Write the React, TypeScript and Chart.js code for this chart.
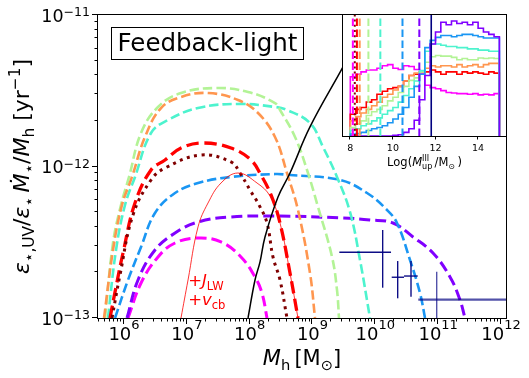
import React, { useEffect, useRef } from 'react';
import { Chart, registerables } from 'chart.js';

Chart.register(...registerables);

const FONT = '"DejaVu Sans", sans-serif';

// ---------- main panel: axis limits (log10) and ticks ----------
const xLogMin = 5.586;
const xLogMax = 12.08;
const yLogMin = -13;
const yLogMax = -11;
const xTickExps = [6, 7, 8, 9, 10, 11, 12];
const yTickExps = [-13, -12, -11];

// ---------- main panel curves: log10(M_h) and log10(rate) ----------
const greenLogM = [5.698, 5.825, 5.952, 6.08, 6.271, 6.541, 6.907, 7.464, 7.974, 8.403, 8.483, 8.722, 8.913, 9.088, 9.311, 9.39, 9.422];
const greenLogY = [-13, -12.505, -12.254, -12.069, -11.779, -11.607, -11.515, -11.482, -11.508, -11.581, -11.627, -11.805, -12.023, -12.267, -12.597, -12.815, -13];

const orangeLogM = [5.682, 5.825, 5.968, 6.127, 6.334, 6.589, 6.907, 7.337, 7.814, 8.133, 8.403, 8.594, 8.769, 8.96, 9.04];
const orangeLogY = [-13, -12.551, -12.254, -12.069, -11.805, -11.614, -11.541, -11.515, -11.561, -11.647, -11.805, -12.043, -12.287, -12.703, -13];

const turqLogM = [5.745, 5.873, 6.016, 6.175, 6.43, 6.7, 7.178, 7.814, 8.403, 8.594, 8.96, 9.167, 9.39, 9.597, 9.756, 9.915];
const turqLogY = [-13, -12.551, -12.254, -12.069, -11.779, -11.693, -11.614, -11.587, -11.607, -11.627, -11.713, -11.871, -12.069, -12.3, -12.617, -13];

const redLogM = [5.777, 5.873, 5.984, 6.175, 6.43, 6.653, 6.907, 7.257, 7.703, 8.021, 8.18, 8.34, 8.483, 8.642, 8.769];
const redLogY = [-13, -12.795, -12.571, -12.241, -12.023, -11.957, -11.878, -11.845, -11.878, -11.957, -12.056, -12.188, -12.373, -12.703, -13];

const maroonLogM = [5.809, 5.936, 6.143, 6.43, 6.653, 7.226, 7.703, 7.846, 8.005, 8.149, 8.276, 8.371, 8.483, 8.594];
const maroonLogY = [-13, -12.716, -12.32, -12.089, -12.01, -11.924, -11.97, -12.043, -12.155, -12.254, -12.373, -12.597, -12.749, -13];

const blueLogM = [5.857, 6.064, 6.271, 6.493, 6.812, 7.178, 7.703, 8.403, 8.642, 9.438, 9.868, 10.186, 10.345, 10.552, 10.711, 10.791];
const blueLogY = [-13, -12.749, -12.531, -12.307, -12.175, -12.109, -12.069, -12.05, -12.056, -12.089, -12.175, -12.287, -12.373, -12.617, -12.835, -13];

const purpleLogM = [6.048, 6.223, 6.493, 6.812, 7.178, 7.703, 8.403, 9.486, 9.915, 10.281, 10.6, 10.918, 11.189, 11.348, 11.427];
const purpleLogY = [-13, -12.749, -12.551, -12.439, -12.366, -12.333, -12.327, -12.34, -12.353, -12.373, -12.465, -12.571, -12.729, -12.881, -13];

const magentaLogM = [6.064, 6.271, 6.541, 6.812, 7.178, 7.544, 7.862, 8.085, 8.196, 8.276];
const magentaLogY = [-13, -12.769, -12.597, -12.505, -12.472, -12.498, -12.597, -12.729, -12.835, -13];

const thinRedLogM = [6.907, 7.019, 7.178, 7.337, 7.544, 7.814, 8.117, 8.324, 8.483, 8.642, 8.769];
const thinRedLogY = [-13, -12.749, -12.399, -12.241, -12.109, -12.043, -12.109, -12.195, -12.373, -12.703, -13];

const blackLogM = [7.974, 8.085, 8.165, 8.244, 8.451, 8.642, 8.96, 9.486, 9.8];
const blackLogY = [-13, -12.749, -12.63, -12.465, -12.201, -12.043, -11.739, -11.343, -11.1];

// observational points with error bars
const obsLogM = [10.117, 10.356, 10.568, 10.977];
const obsLogMlo = [9.427, 10.261, 10.457, 10.684];
const obsLogMhi = [10.25, 10.457, 10.675, 12.5];
const obsLogY = [-12.566, -12.731, -12.723, -12.879];
const obsLogYlo = [-12.8, -12.87, -12.859, -13.3];
const obsLogYhi = [-12.419, -12.624, -12.624, -12.694];

// ---------- inset: histograms of log10(M_up^III) ----------
const insetXMin = 7.657;
const insetXMax = 15.31;
const insetTicks = [8, 10, 12, 14];
const binLefts = [8, 8.25, 8.5, 8.75, 9, 9.25, 9.5, 9.75, 10, 10.25, 10.5, 10.75, 11, 11.25, 11.5, 11.75, 12, 12.25, 12.5, 12.75, 13, 13.25, 13.5, 13.75, 14, 14.25, 14.5, 14.75];
const binEnd = 15;
const histMagenta = [0.49, 0.51, 0.53, 0.545, 0.545, 0.56, 0.58, 0.59, 0.56, 0.55, 0.58, 0.575, 0.55, 0.52, 0.42, 0.4, 0.39, 0.375, 0.36, 0.355, 0.35, 0.35, 0.345, 0.35, 0.34, 0.345, 0.34, 0.35];
const histRed = [0.18, 0.22, 0.235, 0.28, 0.3, 0.345, 0.37, 0.39, 0.4, 0.41, 0.455, 0.5, 0.51, 0.53, 0.53, 0.545, 0.53, 0.51, 0.53, 0.53, 0.51, 0.53, 0.52, 0.53, 0.52, 0.51, 0.53, 0.52];
const histOrange = [0.125, 0.16, 0.19, 0.22, 0.25, 0.28, 0.32, 0.345, 0.38, 0.41, 0.455, 0.5, 0.52, 0.53, 0.56, 0.58, 0.57, 0.58, 0.58, 0.57, 0.59, 0.57, 0.58, 0.59, 0.57, 0.59, 0.6, 0.6];
const histGreen = [0.07, 0.1, 0.125, 0.17, 0.2, 0.22, 0.25, 0.29, 0.32, 0.36, 0.41, 0.46, 0.48, 0.53, 0.61, 0.655, 0.665, 0.66, 0.66, 0.65, 0.63, 0.64, 0.63, 0.63, 0.645, 0.64, 0.645, 0.64];
const histTurq = [0.045, 0.06, 0.085, 0.1, 0.125, 0.15, 0.18, 0.21, 0.235, 0.28, 0.335, 0.39, 0.455, 0.54, 0.7, 0.76, 0.76, 0.75, 0.74, 0.74, 0.73, 0.73, 0.72, 0.72, 0.71, 0.71, 0.7, 0.7];
const histBlue = [0.017, 0.02, 0.03, 0.045, 0.06, 0.07, 0.085, 0.11, 0.14, 0.18, 0.235, 0.32, 0.41, 0.51, 0.73, 0.79, 0.815, 0.83, 0.83, 0.82, 0.83, 0.84, 0.84, 0.83, 0.82, 0.81, 0.81, 0.81];
const histPurple = [0, 0, 0, 0, 0, 0, 0, 0, 0.005, 0.01, 0.03, 0.06, 0.13, 0.3, 0.5, 0.76, 0.86, 0.94, 0.92, 0.95, 0.93, 0.94, 0.92, 0.94, 0.89, 0.86, 0.84, 0.82];
const vLineX = [8.12, 8.21, 8.31, 8.44, 8.85, 9.41, 10.45, 11.24];
const navyLineX = 11.8;

const C_PURPLE = '#8000ff';
const C_BLUE = '#1a96f3';
const C_TURQ = '#4df3ce';
const C_GREEN = '#b3f396';
const C_ORANGE = '#ff964f';
const C_RED = '#ff0000';
const C_MAGENTA = '#ff00ff';
const C_MAROON = '#800000';
const C_NAVY = '#000080';

// ---------- helpers ----------
type Piece = { t?: string; it?: boolean; pos?: 'sub' | 'sup'; sub?: string; sup?: string; fs?: number; dy?: number };

function pieceFont(size: number, it?: boolean) {
  return `${it ? 'italic ' : ''}${size}px ${FONT}`;
}

function pieceWidth(ctx: CanvasRenderingContext2D, p: Piece, size: number) {
  if (p.sub !== undefined || p.sup !== undefined) {
    ctx.font = pieceFont(size * 0.7);
    const a = p.sub ? ctx.measureText(p.sub).width : 0;
    const b = p.sup ? ctx.measureText(p.sup).width : 0;
    return Math.max(a, b);
  }
  const fs = p.fs ?? (p.pos ? size * 0.7 : size);
  ctx.font = pieceFont(fs, p.it);
  return ctx.measureText(p.t ?? '').width;
}

function drawRich(ctx: CanvasRenderingContext2D, pieces: Piece[], x: number, y: number, size: number, color: string, align: 'left' | 'center' | 'right') {
  let total = 0;
  for (const p of pieces) total += pieceWidth(ctx, p, size);
  let cx = align === 'center' ? x - total / 2 : align === 'right' ? x - total : x;
  ctx.fillStyle = color;
  ctx.textAlign = 'left';
  ctx.textBaseline = 'alphabetic';
  for (const p of pieces) {
    const w = pieceWidth(ctx, p, size);
    if (p.sub !== undefined || p.sup !== undefined) {
      ctx.font = pieceFont(size * 0.7);
      if (p.sup) ctx.fillText(p.sup, cx, y - size * 0.45);
      if (p.sub) ctx.fillText(p.sub, cx, y + size * 0.25);
    } else {
      const dy = p.dy ?? (p.pos === 'sub' ? size * 0.22 : p.pos === 'sup' ? -size * 0.42 : 0);
      ctx.fillText(p.t ?? '', cx, y + dy);
    }
    cx += w;
  }
}

const pts = (lx: number[], ly: number[]) => lx.map((v, i) => ({ x: Math.pow(10, v), y: Math.pow(10, ly[i]) }));

function curve(label: string, lx: number[], ly: number[], color: string, width: number, dash: number[], order: number) {
  return {
    label,
    data: pts(lx, ly),
    borderColor: color,
    backgroundColor: color,
    borderWidth: width,
    borderDash: dash,
    pointRadius: 0,
    fill: false,
    cubicInterpolationMode: 'default',
    tension: 0.4,
    order,
  };
}

function segment(label: string, a: { x: number; y: number }, b: { x: number; y: number }, color: string, width: number) {
  return {
    label,
    data: [a, b],
    borderColor: color,
    borderWidth: width,
    pointRadius: 0,
    fill: false,
    tension: 0,
    order: 0,
  };
}

function histPoints(vals: number[]) {
  const out = [{ x: binLefts[0], y: 0 }];
  vals.forEach((v, i) => out.push({ x: binLefts[i], y: v }));
  out.push({ x: binEnd, y: vals[vals.length - 1] });
  out.push({ x: binEnd, y: 0 });
  return out;
}

const mainDecor = {
  id: 'mainDecor',
  afterDraw(chart: any) {
    const { ctx, chartArea: a } = chart;
    const xs = chart.scales.x;
    const ys = chart.scales.y;
    ctx.save();
    // feedback box
    const bx = a.left + 13, by = a.top + 12, bw = 192, bh = 32;
    ctx.fillStyle = '#fff';
    ctx.fillRect(bx, by, bw, bh);
    ctx.strokeStyle = '#000';
    ctx.lineWidth = 1;
    ctx.strokeRect(bx + 0.5, by + 0.5, bw, bh);
    ctx.font = pieceFont(24.5);
    ctx.fillStyle = '#000';
    ctx.textAlign = 'center';
    ctx.textBaseline = 'alphabetic';
    ctx.fillText('Feedback-light', bx + bw / 2 + 0.5, by + 23.5);

    // frame
    ctx.strokeStyle = '#000';
    ctx.lineWidth = 1;
    ctx.strokeRect(a.left - 0.5, a.top - 0.5, a.right - a.left + 1, a.bottom - a.top + 1);

    // ticks
    ctx.beginPath();
    for (let e = Math.floor(xLogMin); e <= Math.ceil(xLogMax); e++) {
      for (let k = 1; k <= 9; k++) {
        const lv = e + Math.log10(k);
        if (lv < xLogMin - 1e-9 || lv > xLogMax + 1e-9) continue;
        const px = Math.round(xs.getPixelForValue(k * Math.pow(10, e))) - 0.5;
        const len = k === 1 ? 6 : 3.5;
        ctx.moveTo(px, a.bottom);
        ctx.lineTo(px, a.bottom + len);
      }
    }
    for (let e = Math.floor(yLogMin); e <= Math.ceil(yLogMax); e++) {
      for (let k = 1; k <= 9; k++) {
        const lv = e + Math.log10(k);
        if (lv < yLogMin - 1e-9 || lv > yLogMax + 1e-9) continue;
        const py = Math.round(ys.getPixelForValue(k * Math.pow(10, e))) - 0.5;
        const len = k === 1 ? 6 : 3.5;
        ctx.moveTo(a.left, py);
        ctx.lineTo(a.left - len, py);
      }
    }
    ctx.stroke();

    // tick labels
    for (const e of xTickExps) {
      const px = xs.getPixelForValue(Math.pow(10, e));
      drawRich(ctx, [{ t: '10' }, { t: String(e), fs: 13, dy: -11 }], px, a.bottom + 22, 18, '#000', 'center');
    }
    for (const e of yTickExps) {
      const py = ys.getPixelForValue(Math.pow(10, e));
      drawRich(ctx, [{ t: '10' }, { t: '\u2212' + Math.abs(e), fs: 12.5, dy: -5.5 }], a.left - 8, py + 6.5, 17.5, '#000', 'right');
    }

    // in-plot annotations (data coordinates)
    const lx = xs.getPixelForValue(1.05e7);
    drawRich(ctx, [{ t: '+' }, { t: 'J', it: true }, { t: 'LW', pos: 'sub' }], lx, ys.getPixelForValue(1.62e-13), 16.5, C_RED, 'left');
    drawRich(ctx, [{ t: '+' }, { t: 'v', it: true }, { t: 'cb', pos: 'sub' }], lx, ys.getPixelForValue(1.22e-13), 16.5, C_RED, 'left');

    // axis labels
    drawRich(ctx, [{ t: 'M', it: true }, { t: 'h', pos: 'sub' }, { t: '\u2009' }, { t: '[M' }, { t: '\u2299', pos: 'sub' }, { t: ']' }], (a.left + a.right) / 2, a.bottom + 47, 21, '#000', 'center');

    ctx.translate(29, (a.top + a.bottom) / 2);
    ctx.rotate(-Math.PI / 2);
    drawRich(ctx, [
      { t: '\u03b5', it: true }, { t: '\u22c6,UV', pos: 'sub' }, { t: '/' },
      { t: '\u03b5', it: true }, { t: '\u22c6', pos: 'sub' }, { t: '\u2009' },
      { t: '\u1e40', it: true }, { t: '\u22c6', pos: 'sub' }, { t: '/' },
      { t: 'M', it: true }, { t: 'h', pos: 'sub' }, { t: ' ' },
      { t: '[yr' }, { t: '\u22121', pos: 'sup' }, { t: ']' },
    ], 0, 0, 22, '#000', 'center');
    ctx.restore();
  },
};

const insetDecor = {
  id: 'insetDecor',
  beforeDatasetsDraw(chart: any) {
    const { ctx, chartArea: a } = chart;
    ctx.save();
    ctx.fillStyle = '#fff';
    ctx.fillRect(a.left, a.top, a.right - a.left, a.bottom - a.top);
    ctx.restore();
  },
  afterDraw(chart: any) {
    const { ctx, chartArea: a } = chart;
    const xs = chart.scales.x;
    ctx.save();
    ctx.strokeStyle = '#000';
    ctx.lineWidth = 1;
    ctx.strokeRect(a.left - 0.5, a.top - 0.5, a.right - a.left + 1, a.bottom - a.top + 1);
    ctx.beginPath();
    for (const t of insetTicks) {
      const px = Math.round(xs.getPixelForValue(t)) - 0.5;
      ctx.moveTo(px, a.bottom);
      ctx.lineTo(px, a.bottom + 3.5);
    }
    ctx.stroke();
    ctx.fillStyle = '#000';
    ctx.font = pieceFont(9.5);
    ctx.textAlign = 'center';
    ctx.textBaseline = 'alphabetic';
    for (const t of insetTicks) {
      ctx.fillText(String(t), xs.getPixelForValue(t), a.bottom + 14.5);
    }
    drawRich(ctx, [
      { t: 'Log(' }, { t: 'M', it: true }, { sub: 'up', sup: 'III' }, { t: '\u2009/M' }, { t: '\u2299', pos: 'sub' }, { t: '\u2009)' },
    ], (a.left + a.right) / 2, a.bottom + 30, 11.5, '#000', 'center');
    ctx.restore();
  },
};

export default function App() {
  const mainRef = useRef<HTMLCanvasElement>(null);
  const insetRef = useRef<HTMLCanvasElement>(null);

  useEffect(() => {
    const datasets: any[] = [];
    for (let i = 0; i < obsLogM.length; i++) {
      const col = i === 3 ? 'rgba(0,0,128,0.68)' : 'rgba(0,0,128,0.95)';
      datasets.push(segment('obs-h' + i, { x: Math.pow(10, obsLogMlo[i]), y: Math.pow(10, obsLogY[i]) }, { x: Math.pow(10, obsLogMhi[i]), y: Math.pow(10, obsLogY[i]) }, col, i === 3 ? 2.2 : 1.4));
      datasets.push(segment('obs-v' + i, { x: Math.pow(10, obsLogM[i]), y: Math.pow(10, obsLogYlo[i]) }, { x: Math.pow(10, obsLogM[i]), y: Math.pow(10, obsLogYhi[i]) }, col, 1.4));
    }
    datasets.push(curve('black', blackLogM, blackLogY, '#000', 1.5, [], 1));
    datasets.push(curve('thinRed', thinRedLogM, thinRedLogY, C_RED, 0.8, [], 2));
    datasets.push(curve('maroon', maroonLogM, maroonLogY, C_MAROON, 3, [3, 4.5], 3));
    datasets.push(curve('red', redLogM, redLogY, C_RED, 3.3, [12.5, 5.5], 4));
    datasets.push(curve('orange', orangeLogM, orangeLogY, C_ORANGE, 2.6, [9.5, 4], 5));
    datasets.push(curve('green', greenLogM, greenLogY, C_GREEN, 2.6, [9.5, 4], 6));
    datasets.push(curve('turq', turqLogM, turqLogY, C_TURQ, 2.6, [9.5, 4], 7));
    datasets.push(curve('blue', blueLogM, blueLogY, C_BLUE, 2.6, [9.5, 4], 8));
    datasets.push(curve('purple', purpleLogM, purpleLogY, C_PURPLE, 3, [11, 5], 9));
    datasets.push(curve('magenta', magentaLogM, magentaLogY, C_MAGENTA, 3, [11, 5], 10));

    const main = new Chart(mainRef.current as HTMLCanvasElement, {
      type: 'line',
      data: { datasets },
      options: {
        responsive: false,
        animation: false,
        events: [],
        layout: { padding: { left: 98, top: 15, right: 23, bottom: 60 } },
        plugins: { legend: { display: false }, tooltip: { enabled: false } },
        scales: {
          x: { type: 'logarithmic', display: false, bounds: 'data', min: Math.pow(10, xLogMin), max: Math.pow(10, xLogMax) },
          y: { type: 'logarithmic', display: false, bounds: 'data', min: Math.pow(10, yLogMin), max: Math.pow(10, yLogMax) },
        },
      } as any,
      plugins: [mainDecor],
    });

    const vColors = [C_MAGENTA, C_MAROON, C_RED, C_ORANGE, C_GREEN, C_TURQ, C_BLUE, C_PURPLE];
    const insetSets: any[] = [];
    const hists = [
      [histMagenta, C_MAGENTA], [histRed, C_RED], [histOrange, C_ORANGE], [histGreen, C_GREEN],
      [histTurq, C_TURQ], [histBlue, C_BLUE], [histPurple, C_PURPLE],
    ] as [number[], string][];
    hists.forEach(([vals, col], i) => {
      insetSets.push({ label: 'h' + i, data: histPoints(vals), borderColor: col, borderWidth: 1.6, pointRadius: 0, stepped: true, fill: false, order: 20 - i });
    });
    vLineX.forEach((xv, i) => {
      insetSets.push({
        label: 'v' + i, data: [{ x: xv, y: 0 }, { x: xv, y: 1 }], borderColor: vColors[i], borderWidth: 2,
        borderDash: vColors[i] === C_MAROON ? [2, 3.2] : [7.5, 3.5], pointRadius: 0, tension: 0, fill: false, order: 5,
      });
    });
    insetSets.push({ label: 'navy', data: [{ x: navyLineX, y: 0 }, { x: navyLineX, y: 1 }], borderColor: C_NAVY, borderWidth: 1.6, pointRadius: 0, tension: 0, fill: false, order: 1 });

    const inset = new Chart(insetRef.current as HTMLCanvasElement, {
      type: 'line',
      data: { datasets: insetSets },
      options: {
        responsive: false,
        animation: false,
        events: [],
        layout: { padding: { left: 43, top: 15, right: 23, bottom: 42 } },
        plugins: { legend: { display: false }, tooltip: { enabled: false } },
        scales: {
          x: { type: 'linear', display: false, bounds: 'data', min: insetXMin, max: insetXMax },
          y: { type: 'linear', display: false, bounds: 'data', min: 0, max: 1 },
        },
      } as any,
      plugins: [insetDecor],
    });

    return () => {
      main.destroy();
      inset.destroy();
    };
  }, []);

  return (
    <div style={{ position: 'absolute', left: 0, top: 0, width: 529, height: 378, background: '#fff' }}>
      <canvas ref={mainRef} width={529} height={378} style={{ position: 'absolute', left: 0, top: 0, width: 529, height: 378 }} />
      <canvas ref={insetRef} width={229} height={178} style={{ position: 'absolute', left: 300, top: 0, width: 229, height: 178 }} />
    </div>
  );
}
